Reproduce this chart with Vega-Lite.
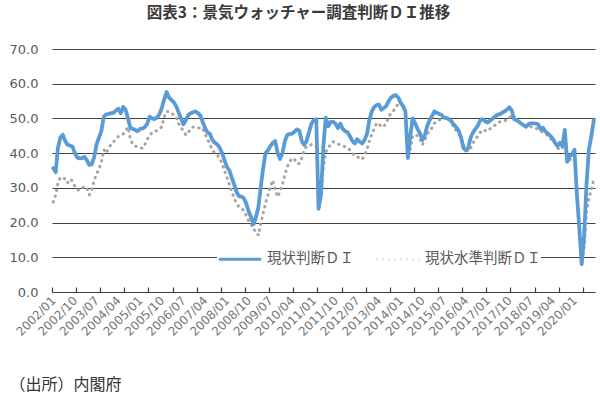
{
  "$schema": "https://vega.github.io/schema/vega-lite/v6.json",
  "width": 543,
  "height": 243,
  "autosize": {"type": "none"},
  "padding": {"left": 52, "top": 49, "right": 5, "bottom": 104},
  "background": "white",
  "title": {
    "text": "図表3：景気ウォッチャー調査判断ＤＩ推移",
    "font": "Noto Sans CJK JP",
    "fontSize": 15.5,
    "fontWeight": "bold",
    "color": "#3a3a3a",
    "anchor": "middle",
    "frame": "group",
    "dx": -25,
    "offset": 22
  },
  "config": {
    "view": {"stroke": null},
    "legend": {
      "orient": "none",
      "legendX": 165,
      "legendY": 187,
      "direction": "horizontal",
      "fillColor": "white",
      "padding": 0,
      "symbolType": "stroke",
      "symbolSize": 1800,
      "symbolStrokeWidth": 3,
      "labelFontSize": 14.5,
      "labelColor": "#595959",
      "labelFont": "Noto Sans CJK JP",
      "labelOffset": 4,
      "columnPadding": 16
    }
  },
  "data": {
    "values": [
      {"date": "2002-01-01", "genjo": 35.7, "suijun": 25.9},
      {"date": "2002-02-01", "genjo": 34.5, "suijun": 28},
      {"date": "2002-03-01", "genjo": 41.5, "suijun": 31.5},
      {"date": "2002-04-01", "genjo": 44.5, "suijun": 33},
      {"date": "2002-05-01", "genjo": 45.3, "suijun": 33},
      {"date": "2002-06-01", "genjo": 43.5, "suijun": 32.5},
      {"date": "2002-07-01", "genjo": 42.4, "suijun": 31.4},
      {"date": "2002-08-01", "genjo": 42.2, "suijun": 32.5},
      {"date": "2002-09-01", "genjo": 41.9, "suijun": 32},
      {"date": "2002-10-01", "genjo": 40, "suijun": 30.4},
      {"date": "2002-11-01", "genjo": 38.7, "suijun": 29.5},
      {"date": "2002-12-01", "genjo": 38.5, "suijun": 29.3},
      {"date": "2003-01-01", "genjo": 38.6, "suijun": 30},
      {"date": "2003-02-01", "genjo": 38.9, "suijun": 30.4},
      {"date": "2003-03-01", "genjo": 38, "suijun": 30},
      {"date": "2003-04-01", "genjo": 36.6, "suijun": 28},
      {"date": "2003-05-01", "genjo": 36.8, "suijun": 29.5},
      {"date": "2003-06-01", "genjo": 38.8, "suijun": 32},
      {"date": "2003-07-01", "genjo": 42.5, "suijun": 34},
      {"date": "2003-08-01", "genjo": 44.5, "suijun": 35.5},
      {"date": "2003-09-01", "genjo": 46.5, "suijun": 37.5},
      {"date": "2003-10-01", "genjo": 50.5, "suijun": 41},
      {"date": "2003-11-01", "genjo": 51.2, "suijun": 40},
      {"date": "2003-12-01", "genjo": 51.3, "suijun": 41.5},
      {"date": "2004-01-01", "genjo": 51.5, "suijun": 42.5},
      {"date": "2004-02-01", "genjo": 51.6, "suijun": 43.3},
      {"date": "2004-03-01", "genjo": 52.3, "suijun": 44},
      {"date": "2004-04-01", "genjo": 52.8, "suijun": 44.8},
      {"date": "2004-05-01", "genjo": 51.5, "suijun": 45.2},
      {"date": "2004-06-01", "genjo": 53.3, "suijun": 45.5},
      {"date": "2004-07-01", "genjo": 52.5, "suijun": 46.5},
      {"date": "2004-08-01", "genjo": 50, "suijun": 47.5},
      {"date": "2004-09-01", "genjo": 47.2, "suijun": 44},
      {"date": "2004-10-01", "genjo": 47, "suijun": 42.5},
      {"date": "2004-11-01", "genjo": 46.7, "suijun": 42},
      {"date": "2004-12-01", "genjo": 46.3, "suijun": 41.8},
      {"date": "2005-01-01", "genjo": 47, "suijun": 41.5},
      {"date": "2005-02-01", "genjo": 47.1, "suijun": 41.4},
      {"date": "2005-03-01", "genjo": 47.5, "suijun": 42.5},
      {"date": "2005-04-01", "genjo": 48.5, "suijun": 44},
      {"date": "2005-05-01", "genjo": 50.5, "suijun": 45},
      {"date": "2005-06-01", "genjo": 50, "suijun": 46},
      {"date": "2005-07-01", "genjo": 49.8, "suijun": 46.2},
      {"date": "2005-08-01", "genjo": 50.2, "suijun": 46.5},
      {"date": "2005-09-01", "genjo": 51.2, "suijun": 47},
      {"date": "2005-10-01", "genjo": 53, "suijun": 47.6},
      {"date": "2005-11-01", "genjo": 55.5, "suijun": 50.5},
      {"date": "2005-12-01", "genjo": 57.6, "suijun": 52},
      {"date": "2006-01-01", "genjo": 56, "suijun": 52},
      {"date": "2006-02-01", "genjo": 55.3, "suijun": 51.5},
      {"date": "2006-03-01", "genjo": 54.7, "suijun": 51},
      {"date": "2006-04-01", "genjo": 53.5, "suijun": 50.3},
      {"date": "2006-05-01", "genjo": 51.8, "suijun": 48.5},
      {"date": "2006-06-01", "genjo": 50, "suijun": 47.3},
      {"date": "2006-07-01", "genjo": 48.3, "suijun": 46.5},
      {"date": "2006-08-01", "genjo": 49.5, "suijun": 45.2},
      {"date": "2006-09-01", "genjo": 51, "suijun": 46},
      {"date": "2006-10-01", "genjo": 51.5, "suijun": 47},
      {"date": "2006-11-01", "genjo": 51.8, "suijun": 47.5},
      {"date": "2006-12-01", "genjo": 52, "suijun": 47.5},
      {"date": "2007-01-01", "genjo": 51.5, "suijun": 47.2},
      {"date": "2007-02-01", "genjo": 50.8, "suijun": 47.3},
      {"date": "2007-03-01", "genjo": 49, "suijun": 47.2},
      {"date": "2007-04-01", "genjo": 47.2, "suijun": 45.5},
      {"date": "2007-05-01", "genjo": 46, "suijun": 44},
      {"date": "2007-06-01", "genjo": 45.5, "suijun": 42.5},
      {"date": "2007-07-01", "genjo": 43.8, "suijun": 41},
      {"date": "2007-08-01", "genjo": 43, "suijun": 40},
      {"date": "2007-09-01", "genjo": 42.5, "suijun": 39.5},
      {"date": "2007-10-01", "genjo": 41.6, "suijun": 38.5},
      {"date": "2007-11-01", "genjo": 40, "suijun": 37},
      {"date": "2007-12-01", "genjo": 38, "suijun": 35},
      {"date": "2008-01-01", "genjo": 36, "suijun": 33},
      {"date": "2008-02-01", "genjo": 35, "suijun": 31},
      {"date": "2008-03-01", "genjo": 33, "suijun": 29},
      {"date": "2008-04-01", "genjo": 31, "suijun": 27},
      {"date": "2008-05-01", "genjo": 28.8, "suijun": 25.5},
      {"date": "2008-06-01", "genjo": 27.6, "suijun": 24.5},
      {"date": "2008-07-01", "genjo": 27.5, "suijun": 24},
      {"date": "2008-08-01", "genjo": 27, "suijun": 23.5},
      {"date": "2008-09-01", "genjo": 25.5, "suijun": 22},
      {"date": "2008-10-01", "genjo": 23.2, "suijun": 20.5},
      {"date": "2008-11-01", "genjo": 21.5, "suijun": 19.5},
      {"date": "2008-12-01", "genjo": 19.5, "suijun": 18},
      {"date": "2009-01-01", "genjo": 21.5, "suijun": 17.5},
      {"date": "2009-02-01", "genjo": 24.5, "suijun": 16.3},
      {"date": "2009-03-01", "genjo": 30, "suijun": 19.7},
      {"date": "2009-04-01", "genjo": 35.5, "suijun": 22.6},
      {"date": "2009-05-01", "genjo": 40, "suijun": 25.5},
      {"date": "2009-06-01", "genjo": 40.8, "suijun": 27.9},
      {"date": "2009-07-01", "genjo": 42, "suijun": 30.3},
      {"date": "2009-08-01", "genjo": 43, "suijun": 32.2},
      {"date": "2009-09-01", "genjo": 43.5, "suijun": 29.5},
      {"date": "2009-10-01", "genjo": 40, "suijun": 27.4},
      {"date": "2009-11-01", "genjo": 38.3, "suijun": 29},
      {"date": "2009-12-01", "genjo": 40, "suijun": 31},
      {"date": "2010-01-01", "genjo": 43.5, "suijun": 33.7},
      {"date": "2010-02-01", "genjo": 45.3, "suijun": 36.1},
      {"date": "2010-03-01", "genjo": 45.5, "suijun": 37.5},
      {"date": "2010-04-01", "genjo": 45.6, "suijun": 38.5},
      {"date": "2010-05-01", "genjo": 46.2, "suijun": 38.3},
      {"date": "2010-06-01", "genjo": 46.8, "suijun": 37},
      {"date": "2010-07-01", "genjo": 46.5, "suijun": 37},
      {"date": "2010-08-01", "genjo": 43.5, "suijun": 38.5},
      {"date": "2010-09-01", "genjo": 42.4, "suijun": 40.9},
      {"date": "2010-10-01", "genjo": 43.5, "suijun": 41.9},
      {"date": "2010-11-01", "genjo": 46, "suijun": 42},
      {"date": "2010-12-01", "genjo": 48.5, "suijun": 42.5},
      {"date": "2011-01-01", "genjo": 49.5, "suijun": 42.5},
      {"date": "2011-02-01", "genjo": 49.8, "suijun": 42},
      {"date": "2011-03-01", "genjo": 24, "suijun": 25},
      {"date": "2011-04-01", "genjo": 28, "suijun": 27},
      {"date": "2011-05-01", "genjo": 42, "suijun": 36},
      {"date": "2011-06-01", "genjo": 50.2, "suijun": 40.4},
      {"date": "2011-07-01", "genjo": 47.7, "suijun": 41.5},
      {"date": "2011-08-01", "genjo": 49, "suijun": 42.5},
      {"date": "2011-09-01", "genjo": 49, "suijun": 43.3},
      {"date": "2011-10-01", "genjo": 48.5, "suijun": 43},
      {"date": "2011-11-01", "genjo": 47.2, "suijun": 42.6},
      {"date": "2011-12-01", "genjo": 48.5, "suijun": 42.4},
      {"date": "2012-01-01", "genjo": 47, "suijun": 42},
      {"date": "2012-02-01", "genjo": 46.3, "suijun": 41.9},
      {"date": "2012-03-01", "genjo": 46, "suijun": 41.5},
      {"date": "2012-04-01", "genjo": 44.8, "suijun": 40.9},
      {"date": "2012-05-01", "genjo": 43.5, "suijun": 40},
      {"date": "2012-06-01", "genjo": 42.8, "suijun": 39.2},
      {"date": "2012-07-01", "genjo": 44, "suijun": 39},
      {"date": "2012-08-01", "genjo": 43.3, "suijun": 38.5},
      {"date": "2012-09-01", "genjo": 42.8, "suijun": 38.2},
      {"date": "2012-10-01", "genjo": 43.8, "suijun": 39.5},
      {"date": "2012-11-01", "genjo": 45.5, "suijun": 41},
      {"date": "2012-12-01", "genjo": 49.5, "suijun": 43.5},
      {"date": "2013-01-01", "genjo": 52, "suijun": 45.5},
      {"date": "2013-02-01", "genjo": 53.3, "suijun": 47},
      {"date": "2013-03-01", "genjo": 53.8, "suijun": 48.6},
      {"date": "2013-04-01", "genjo": 54, "suijun": 48.5},
      {"date": "2013-05-01", "genjo": 52.5, "suijun": 47.5},
      {"date": "2013-06-01", "genjo": 53, "suijun": 47.8},
      {"date": "2013-07-01", "genjo": 53.5, "suijun": 48.5},
      {"date": "2013-08-01", "genjo": 55, "suijun": 50.5},
      {"date": "2013-09-01", "genjo": 56, "suijun": 51.5},
      {"date": "2013-10-01", "genjo": 56.5, "suijun": 52.2},
      {"date": "2013-11-01", "genjo": 56.7, "suijun": 53.5},
      {"date": "2013-12-01", "genjo": 56, "suijun": 54},
      {"date": "2014-01-01", "genjo": 54.5, "suijun": 54},
      {"date": "2014-02-01", "genjo": 53.5, "suijun": 53.5},
      {"date": "2014-03-01", "genjo": 52, "suijun": 52.5},
      {"date": "2014-04-01", "genjo": 38.6, "suijun": 39},
      {"date": "2014-05-01", "genjo": 45, "suijun": 41},
      {"date": "2014-06-01", "genjo": 50, "suijun": 45},
      {"date": "2014-07-01", "genjo": 48.6, "suijun": 45.3},
      {"date": "2014-08-01", "genjo": 47, "suijun": 45},
      {"date": "2014-09-01", "genjo": 45.7, "suijun": 44},
      {"date": "2014-10-01", "genjo": 43.8, "suijun": 42.4},
      {"date": "2014-11-01", "genjo": 45.2, "suijun": 43.8},
      {"date": "2014-12-01", "genjo": 47.8, "suijun": 45.5},
      {"date": "2015-01-01", "genjo": 49.5, "suijun": 46.5},
      {"date": "2015-02-01", "genjo": 50.8, "suijun": 47.3},
      {"date": "2015-03-01", "genjo": 52, "suijun": 48.6},
      {"date": "2015-04-01", "genjo": 51.6, "suijun": 49},
      {"date": "2015-05-01", "genjo": 51.3, "suijun": 49.5},
      {"date": "2015-06-01", "genjo": 51, "suijun": 50},
      {"date": "2015-07-01", "genjo": 50.2, "suijun": 50.3},
      {"date": "2015-08-01", "genjo": 50.1, "suijun": 50.5},
      {"date": "2015-09-01", "genjo": 49.8, "suijun": 49.6},
      {"date": "2015-10-01", "genjo": 49.2, "suijun": 49},
      {"date": "2015-11-01", "genjo": 48.2, "suijun": 47.5},
      {"date": "2015-12-01", "genjo": 47.5, "suijun": 46.5},
      {"date": "2016-01-01", "genjo": 46.5, "suijun": 45.5},
      {"date": "2016-02-01", "genjo": 44.5, "suijun": 44.6},
      {"date": "2016-03-01", "genjo": 41.5, "suijun": 42.5},
      {"date": "2016-04-01", "genjo": 40.8, "suijun": 41},
      {"date": "2016-05-01", "genjo": 41.5, "suijun": 40.5},
      {"date": "2016-06-01", "genjo": 44.5, "suijun": 41.5},
      {"date": "2016-07-01", "genjo": 46, "suijun": 43},
      {"date": "2016-08-01", "genjo": 47, "suijun": 44},
      {"date": "2016-09-01", "genjo": 48, "suijun": 45},
      {"date": "2016-10-01", "genjo": 49.5, "suijun": 46},
      {"date": "2016-11-01", "genjo": 49.8, "suijun": 46.7},
      {"date": "2016-12-01", "genjo": 49.2, "suijun": 46.5},
      {"date": "2017-01-01", "genjo": 48.8, "suijun": 46.3},
      {"date": "2017-02-01", "genjo": 49.4, "suijun": 47},
      {"date": "2017-03-01", "genjo": 49.9, "suijun": 47.7},
      {"date": "2017-04-01", "genjo": 50.5, "suijun": 48},
      {"date": "2017-05-01", "genjo": 51, "suijun": 48.6},
      {"date": "2017-06-01", "genjo": 51.2, "suijun": 49},
      {"date": "2017-07-01", "genjo": 51.6, "suijun": 49.1},
      {"date": "2017-08-01", "genjo": 52, "suijun": 49.2},
      {"date": "2017-09-01", "genjo": 52.5, "suijun": 49.8},
      {"date": "2017-10-01", "genjo": 53.2, "suijun": 50.3},
      {"date": "2017-11-01", "genjo": 52.3, "suijun": 50.6},
      {"date": "2017-12-01", "genjo": 49.8, "suijun": 50},
      {"date": "2018-01-01", "genjo": 49.5, "suijun": 49.6},
      {"date": "2018-02-01", "genjo": 49, "suijun": 49.2},
      {"date": "2018-03-01", "genjo": 48.5, "suijun": 48.6},
      {"date": "2018-04-01", "genjo": 48, "suijun": 48.2},
      {"date": "2018-05-01", "genjo": 47.6, "suijun": 47.8},
      {"date": "2018-06-01", "genjo": 48.4, "suijun": 47.7},
      {"date": "2018-07-01", "genjo": 48.6, "suijun": 47.6},
      {"date": "2018-08-01", "genjo": 48.6, "suijun": 47.4},
      {"date": "2018-09-01", "genjo": 48.5, "suijun": 47.2},
      {"date": "2018-10-01", "genjo": 48.3, "suijun": 46.8},
      {"date": "2018-11-01", "genjo": 46.8, "suijun": 46.4},
      {"date": "2018-12-01", "genjo": 47.3, "suijun": 46},
      {"date": "2019-01-01", "genjo": 46.2, "suijun": 45.7},
      {"date": "2019-02-01", "genjo": 45.6, "suijun": 45},
      {"date": "2019-03-01", "genjo": 45, "suijun": 44.3},
      {"date": "2019-04-01", "genjo": 44.2, "suijun": 43.5},
      {"date": "2019-05-01", "genjo": 43, "suijun": 42.8},
      {"date": "2019-06-01", "genjo": 42, "suijun": 41.5},
      {"date": "2019-07-01", "genjo": 43, "suijun": 40.9},
      {"date": "2019-08-01", "genjo": 42, "suijun": 41.5},
      {"date": "2019-09-01", "genjo": 46.7, "suijun": 44.5},
      {"date": "2019-10-01", "genjo": 37.5, "suijun": 38},
      {"date": "2019-11-01", "genjo": 39.2, "suijun": 38},
      {"date": "2019-12-01", "genjo": 39.6, "suijun": 38.8},
      {"date": "2020-01-01", "genjo": 41, "suijun": 39.5},
      {"date": "2020-02-01", "genjo": 28, "suijun": 29},
      {"date": "2020-03-01", "genjo": 19, "suijun": 17},
      {"date": "2020-04-01", "genjo": 8, "suijun": 9},
      {"date": "2020-05-01", "genjo": 16, "suijun": 12},
      {"date": "2020-06-01", "genjo": 31, "suijun": 23},
      {"date": "2020-07-01", "genjo": 41, "suijun": 27},
      {"date": "2020-08-01", "genjo": 45, "suijun": 29.5},
      {"date": "2020-09-01", "genjo": 49.5, "suijun": 32.5}
    ]
  },
  "transform": [{"fold": ["suijun", "genjo"], "as": ["series", "value"]}],
  "resolve": {"axis": {"x": "independent"}},
  "layer": [
    {
      "transform": [{"filter": "datum.series == 'suijun'"}],
      "mark": {"type": "line", "strokeWidth": 3, "strokeCap": "round", "strokeJoin": "round"},
      "encoding": {
        "x": {
          "field": "date",
          "type": "temporal",
          "scale": {
            "type": "utc",
            "domain": [
              {"year": 2001, "month": 12, "date": 16, "hours": 12, "utc": true},
              {"year": 2020, "month": 9, "date": 16, "utc": true}
            ]
          },
          "axis": {
            "orient": "bottom",
            "labels": false,
            "grid": false,
            "title": null,
            "domain": true,
            "domainColor": "#404040",
            "domainWidth": 1.2,
            "ticks": true,
            "tickColor": "#404040",
            "tickWidth": 1.2,
            "tickSize": -5,
            "values": [
              {"year": 2001, "month": 12, "date": 16, "hours": 12, "utc": true},
              {"year": 2002, "month": 10, "date": 16, "utc": true},
              {"year": 2003, "month": 8, "date": 16, "utc": true},
              {"year": 2004, "month": 6, "date": 16, "utc": true},
              {"year": 2005, "month": 4, "date": 16, "utc": true},
              {"year": 2006, "month": 2, "date": 14, "utc": true},
              {"year": 2006, "month": 12, "date": 16, "utc": true},
              {"year": 2007, "month": 10, "date": 16, "utc": true},
              {"year": 2008, "month": 8, "date": 16, "utc": true},
              {"year": 2009, "month": 6, "date": 16, "utc": true},
              {"year": 2010, "month": 4, "date": 16, "utc": true},
              {"year": 2011, "month": 2, "date": 14, "utc": true},
              {"year": 2011, "month": 12, "date": 16, "utc": true},
              {"year": 2012, "month": 10, "date": 16, "utc": true},
              {"year": 2013, "month": 8, "date": 16, "utc": true},
              {"year": 2014, "month": 6, "date": 16, "utc": true},
              {"year": 2015, "month": 4, "date": 16, "utc": true},
              {"year": 2016, "month": 2, "date": 15, "utc": true},
              {"year": 2016, "month": 12, "date": 16, "utc": true},
              {"year": 2017, "month": 10, "date": 16, "utc": true},
              {"year": 2018, "month": 8, "date": 16, "utc": true},
              {"year": 2019, "month": 6, "date": 16, "utc": true},
              {"year": 2020, "month": 4, "date": 16, "utc": true}
            ]
          }
        },
        "y": {
          "field": "value",
          "type": "quantitative",
          "scale": {"domain": [0, 70], "nice": false, "zero": true},
          "axis": {
            "title": null,
            "values": [0, 10, 20, 30, 40, 50, 60, 70],
            "format": ".1f",
            "domain": false,
            "ticks": false,
            "grid": true,
            "gridColor": "#404040",
            "gridWidth": 1.2,
            "labelFont": "DejaVu Sans",
            "labelFontSize": 13,
            "labelColor": "#595959",
            "labelPadding": 14,
            "labelOverlap": false
          }
        },
        "color": {
          "field": "series",
          "type": "nominal",
          "scale": {"domain": ["genjo", "suijun"], "range": ["#5B9BD5", "#A5A5A5"]},
          "legend": {"title": null, "labelExpr": "datum.label == 'genjo' ? '現状判断ＤＩ' : '現状水準判断ＤＩ'"}
        },
        "strokeDash": {
          "field": "series",
          "type": "nominal",
          "scale": {"domain": ["genjo", "suijun"], "range": [[1, 0], [0.5, 5.5]]},
          "legend": {"title": null, "labelExpr": "datum.label == 'genjo' ? '現状判断ＤＩ' : '現状水準判断ＤＩ'"}
        }
      }
    },
    {
      "transform": [{"filter": "datum.series == 'genjo'"}],
      "mark": {"type": "line", "strokeWidth": 3.8, "strokeCap": "round", "strokeJoin": "round"},
      "encoding": {
        "x": {
          "field": "date",
          "type": "temporal",
          "axis": {
            "orient": "bottom",
            "domain": false,
            "ticks": false,
            "grid": false,
            "format": "%Y/%m",
            "labelAngle": -45,
            "labelAlign": "right",
            "labelBaseline": "middle",
            "labelPadding": 6,
            "labelFont": "DejaVu Sans",
            "labelFontSize": 12,
            "labelColor": "#767676",
            "labelOverlap": false,
            "labelBound": false,
            "labelFlush": false,
            "values": [
              {"year": 2002, "month": 1, "date": 1, "utc": true},
              {"year": 2002, "month": 10, "date": 1, "utc": true},
              {"year": 2003, "month": 7, "date": 1, "utc": true},
              {"year": 2004, "month": 4, "date": 1, "utc": true},
              {"year": 2005, "month": 1, "date": 1, "utc": true},
              {"year": 2005, "month": 10, "date": 1, "utc": true},
              {"year": 2006, "month": 7, "date": 1, "utc": true},
              {"year": 2007, "month": 4, "date": 1, "utc": true},
              {"year": 2008, "month": 1, "date": 1, "utc": true},
              {"year": 2008, "month": 10, "date": 1, "utc": true},
              {"year": 2009, "month": 7, "date": 1, "utc": true},
              {"year": 2010, "month": 4, "date": 1, "utc": true},
              {"year": 2011, "month": 1, "date": 1, "utc": true},
              {"year": 2011, "month": 10, "date": 1, "utc": true},
              {"year": 2012, "month": 7, "date": 1, "utc": true},
              {"year": 2013, "month": 4, "date": 1, "utc": true},
              {"year": 2014, "month": 1, "date": 1, "utc": true},
              {"year": 2014, "month": 10, "date": 1, "utc": true},
              {"year": 2015, "month": 7, "date": 1, "utc": true},
              {"year": 2016, "month": 4, "date": 1, "utc": true},
              {"year": 2017, "month": 1, "date": 1, "utc": true},
              {"year": 2017, "month": 10, "date": 1, "utc": true},
              {"year": 2018, "month": 7, "date": 1, "utc": true},
              {"year": 2019, "month": 4, "date": 1, "utc": true},
              {"year": 2020, "month": 1, "date": 1, "utc": true}
            ],
            "title": "（出所）内閣府",
            "titleFont": "Noto Sans CJK JP",
            "titleFontSize": 16,
            "titleFontWeight": "normal",
            "titleColor": "#333333",
            "titleAlign": "left",
            "titleBaseline": "alphabetic",
            "titleX": -43,
            "titleY": 97
          }
        },
        "y": {
          "field": "value",
          "type": "quantitative",
          "scale": {"domain": [0, 70], "nice": false, "zero": true},
          "axis": {
            "title": null,
            "values": [0, 10, 20, 30, 40, 50, 60, 70],
            "format": ".1f",
            "domain": false,
            "ticks": false,
            "grid": true,
            "gridColor": "#404040",
            "gridWidth": 1.2,
            "labelFont": "DejaVu Sans",
            "labelFontSize": 13,
            "labelColor": "#595959",
            "labelPadding": 14,
            "labelOverlap": false
          }
        },
        "color": {
          "field": "series",
          "type": "nominal",
          "legend": {"title": null, "labelExpr": "datum.label == 'genjo' ? '現状判断ＤＩ' : '現状水準判断ＤＩ'"}
        },
        "strokeDash": {
          "field": "series",
          "type": "nominal",
          "legend": {"title": null, "labelExpr": "datum.label == 'genjo' ? '現状判断ＤＩ' : '現状水準判断ＤＩ'"}
        }
      }
    }
  ]
}
